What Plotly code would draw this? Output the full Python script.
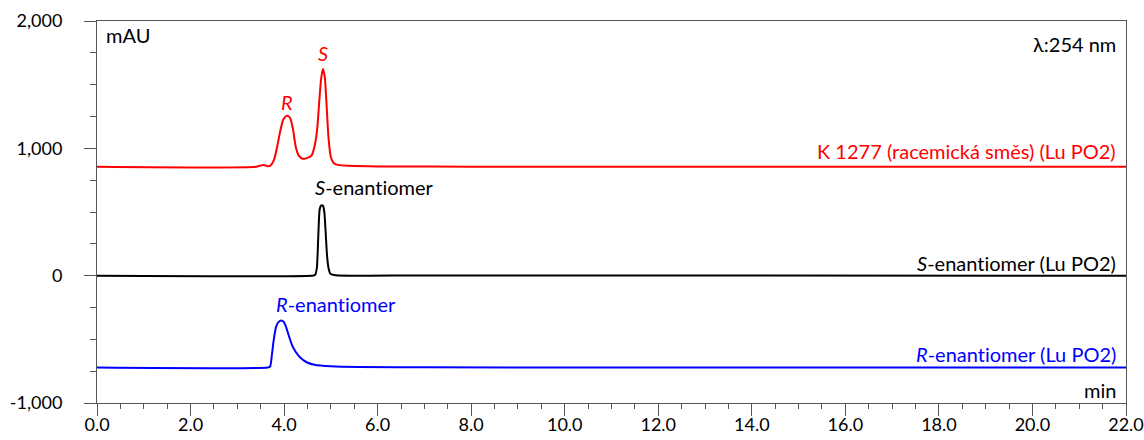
import plotly.graph_objects as go

# Chromatogram points (time in min, signal in mAU)
red_t = [0.0, 3.40, 3.50, 3.58, 3.65, 3.70, 3.78, 3.85, 3.92, 3.98, 4.04, 4.08, 4.13, 4.19, 4.25, 4.31, 4.40, 4.50, 4.59, 4.66, 4.71, 4.75, 4.79, 4.83, 4.87, 4.91, 4.95, 5.00, 5.06, 5.15, 5.40, 6.0, 8.0, 22.0]
red_y = [855, 855, 866, 868, 860, 862, 905, 1010, 1140, 1225, 1252, 1255, 1238, 1150, 1010, 945, 918, 925, 945, 1030, 1160, 1360, 1540, 1624, 1560, 1330, 1080, 930, 885, 870, 863, 858, 856, 855]

blk_t = [0.0, 4.60, 4.66, 4.70, 4.73, 4.76, 4.79, 4.83, 4.86, 4.89, 4.92, 4.95, 4.99, 5.10, 7.0, 22.0]
blk_y = [0, 0, 5, 60, 300, 520, 550, 550, 500, 330, 150, 60, 15, 3, 2, 0]

blu_t = [0.0, 3.65, 3.70, 3.74, 3.78, 3.83, 3.88, 3.94, 3.99, 4.04, 4.10, 4.17, 4.25, 4.35, 4.48, 4.65, 5.0, 5.6, 7.0, 22.0]
blu_y = [-722, -722, -715, -620, -500, -400, -365, -352, -362, -400, -470, -545, -600, -645, -680, -700, -712, -718, -720, -722]

x_ticks = [0, 2, 4, 6, 8, 10, 12, 14, 16, 18, 20, 22]
x_labels = ["0.0", "2.0", "4.0", "6.0", "8.0", "10.0", "12.0", "14.0", "16.0", "18.0", "20.0", "22.0"]
y_ticks = [-1000, 0, 1000, 2000]
y_labels = ["-1,000", "0", "1,000", "2,000"]

FONT = "Lato"
ZW = "\u200c"  # avoid the 'ti' ligature
fig = go.Figure()
for t, y, c in [(red_t, red_y, "#ff0000"), (blk_t, blk_y, "#000000"), (blu_t, blu_y, "#0000ff")]:
    fig.add_trace(go.Scatter(x=t, y=y, mode="lines", line=dict(color=c, width=2, shape="spline", smoothing=0.6),
                             showlegend=False, hoverinfo="skip"))

ann = []
def A(text, x, y, color, xanchor="center", xref="x", yref="y", size=20):
    ann.append(dict(text=text, x=x, y=y, xref=xref, yref=yref, xanchor=xanchor, yanchor="middle",
                    showarrow=False, font=dict(color=color, size=size, family=FONT)))

A("<i>R</i>", 4.06, 1365, "#ff0000")
A("<i>S</i>", 4.83, 1750, "#ff0000")
A("<i>S</i>-enant" + ZW + "iomer", 5.94, 698, "#000000")
A("<i>R</i>-enant" + ZW + "iomer", 5.11, -220, "#0000ff")
A("K 1277 (racemická směs) (Lu PO2)", 0.9925, 980, "#ff0000", xanchor="right", xref="paper")
A("<i>S</i>-enant" + ZW + "iomer (Lu PO2)", 0.9925, 102, "#000000", xanchor="right", xref="paper")
A("<i>R</i>-enant" + ZW + "iomer (Lu PO2)", 0.9925, -612, "#0000ff", xanchor="right", xref="paper")
A("mAU", 0.007, 1890, "#000000", xanchor="left", xref="paper")
A("λ:254 nm", 0.9925, 1820, "#000000", xanchor="right", xref="paper")
A("min", 0.9925, -900, "#000000", xanchor="right", xref="paper")

fig.update_layout(
    width=1144, height=440,
    margin=dict(l=97, r=18, t=21, b=37),
    plot_bgcolor="white", paper_bgcolor="white",
    font=dict(family=FONT, size=18, color="#000000"),
    annotations=ann,
    xaxis=dict(range=[0, 22], tickvals=x_ticks, ticktext=x_labels, ticks="outside", ticklen=12,
               tickcolor="#555", showline=True, linecolor="#555", linewidth=1, mirror=True,
               showgrid=False, zeroline=False, tickfont=dict(size=18, family=FONT), automargin=False,
               ticklabelstandoff=-7,
               minor=dict(dtick=0.5, ticks="outside", ticklen=5, tickcolor="#555", showgrid=False)),
    yaxis=dict(range=[-1000, 2000], tickvals=y_ticks, ticktext=y_labels, ticks="outside", ticklen=12,
               tickcolor="#555", showline=True, linecolor="#555", linewidth=1, mirror=True,
               showgrid=False, zeroline=False, tickfont=dict(size=18, family=FONT), automargin=False,
               ticklabelstandoff=18,
               minor=dict(dtick=250, tick0=0, ticks="outside", ticklen=6, tickcolor="#555", showgrid=False)),
)
fig.write_html("out.html")
